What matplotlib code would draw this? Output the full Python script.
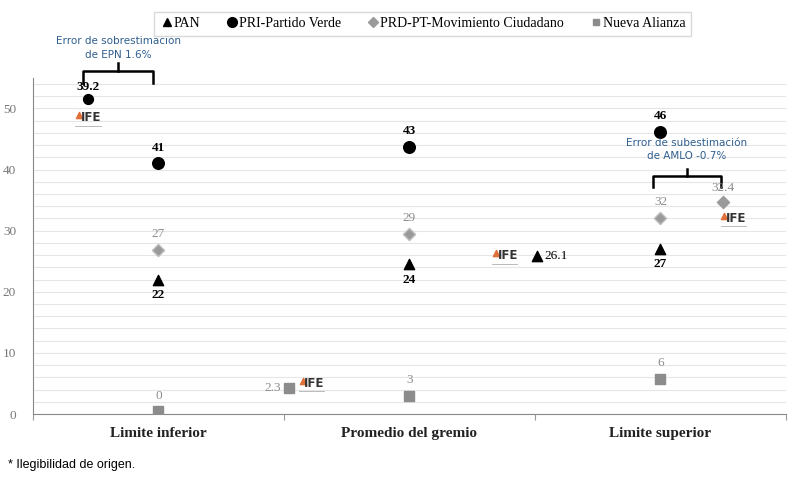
import matplotlib.pyplot as plt
import numpy as np

categories = ['Limite inferior', 'Promedio del gremio', 'Limite superior']
# plotted heights (as placed in the picture) and the printed labels
pan_y = [22, 24.5, 27]
pan_lbl = ['22', '24', '27']
pri_y = [41, 43.7, 46.2]
pri_lbl = ['41', '43', '46']
prd_y = [26.8, 29.4, 32.1]
prd_lbl = ['27', '29', '32']
na_y = [0.5, 3.0, 5.8]
na_lbl = ['0', '3', '6']

# IFE official results, drawn between categories
ife_pri = (-0.28, 51.5, '39.2')
ife_na = (0.52, 4.3, '2.3')
ife_pan = (1.51, 25.8, '26.1')
ife_prd = (2.25, 34.7, '32.4')
ife_logos = [(-0.28, 48.5), (0.61, 5.0), (1.38, 25.9), (2.29, 32.0)]

serif = 'Liberation Serif'
blue = '#2f5f8f'
gray = '#8c8c8c'

fig = plt.figure(figsize=(8.0, 4.84), dpi=100)
ax = fig.add_axes([0.041, 0.1446, 0.9415, 0.6944])
x = np.arange(len(categories))

ax.set_xlim(-0.5, 2.5)
ax.set_ylim(0, 55)
ax.set_yticks(np.arange(0, 51, 10))
ax.set_yticks(np.arange(0, 55, 2), minor=True)
ax.grid(True, axis='y', which='both', color='#e6e6e6', lw=0.8)
ax.set_axisbelow(True)
ax.tick_params(axis='y', which='both', length=0, labelsize=9.5, labelcolor='#777777', pad=12)
for t in ax.get_yticklabels():
    t.set_family(serif)
ax.set_xticks([-0.5, 0.5, 1.5, 2.5])
ax.set_xticklabels([])
ax.tick_params(axis='x', length=4, color='#999999')
for c, cx in zip(categories, x):
    ax.text(cx, -2.2, c, ha='center', va='top', family=serif, fontsize=11,
            fontweight='bold', color='#222222')
for s in ['top', 'right']:
    ax.spines[s].set_visible(False)
ax.spines['left'].set_color('#888888')
ax.spines['bottom'].set_color('#888888')

ax.scatter(x, pan_y, marker='^', s=55, color='black', zorder=3)
ax.scatter(x, pri_y, marker='o', s=70, color='black', zorder=3)
ax.scatter(x, prd_y, marker='D', s=38, color='#9a9a9a', edgecolor='#bbbbbb', zorder=3)
ax.scatter(x, na_y, marker='s', s=42, color=gray, zorder=3)

def lbl(xx, yy, t, dy, color='black', bold=True, dx=0, ha='center'):
    ax.annotate(t, (xx, yy), xytext=(dx, dy), textcoords='offset points',
                ha=ha, va='center', family=serif, fontsize=9.5,
                fontweight='bold' if bold else 'normal', color=color)

for i in range(3):
    lbl(x[i], pri_y[i], pri_lbl[i], 11.5)
    lbl(x[i], pan_y[i], pan_lbl[i], -11)
    lbl(x[i], prd_y[i], prd_lbl[i], 11.5, color=gray, bold=False)
    lbl(x[i], na_y[i], na_lbl[i], 11, color=gray, bold=False)

ax.scatter([ife_pri[0]], [ife_pri[1]], marker='o', s=50, color='black', zorder=3)
lbl(ife_pri[0], ife_pri[1], ife_pri[2], 9)
ax.scatter([ife_na[0]], [ife_na[1]], marker='s', s=42, color=gray, zorder=3)
lbl(ife_na[0], ife_na[1], ife_na[2], 0, color=gray, bold=False, dx=-6, ha='right')
ax.scatter([ife_pan[0]], [ife_pan[1]], marker='^', s=55, color='black', zorder=3)
lbl(ife_pan[0], ife_pan[1], ife_pan[2], 0, bold=False, dx=5, ha='left')
ax.scatter([ife_prd[0]], [ife_prd[1]], marker='D', s=38, color='#9a9a9a', zorder=3)
lbl(ife_prd[0], ife_prd[1], ife_prd[2], 10, color=gray, bold=False)

# IFE logos
for lx, ly in ife_logos:
    ax.scatter([lx - 0.035], [ly + 0.4], marker='^', s=20, color='#e0703a', zorder=4)
    ax.text(lx + 0.012, ly, 'IFE', ha='center', va='center', fontsize=8.5,
            fontweight='bold', color='#333333', family='DejaVu Sans', zorder=4)
    ax.plot([lx - 0.05, lx + 0.05], [ly - 1.3, ly - 1.3], color='#b0b0b0', lw=0.6, zorder=4)

# brackets with notes
def bracket(x0, x1, yb, ye, ys, text, ty):
    xm = (x0 + x1) / 2
    ax.plot([x0, x0, x1, x1], [ye, yb, yb, ye], color='black', lw=1.8, clip_on=False)
    ax.plot([xm, xm], [yb, ys], color='black', lw=1.8, clip_on=False)
    ax.text(xm, ty, text, ha='center', va='center', fontsize=7.5, color=blue,
            family='DejaVu Sans', linespacing=1.4, clip_on=False)

bracket(-0.3, -0.02, 56.2, 54.1, 57.4, 'Error de sobrestimación\nde EPN 1.6%', 59.9)
bracket(1.97, 2.24, 39.0, 37.2, 40.1, 'Error de subestimación\nde AMLO -0.7%', 43.3)

# legend
h = [plt.Line2D([], [], ls='', marker='^', color='black', ms=6),
     plt.Line2D([], [], ls='', marker='o', color='black', ms=7),
     plt.Line2D([], [], ls='', marker='D', color='#9a9a9a', ms=5),
     plt.Line2D([], [], ls='', marker='s', color=gray, ms=5)]
fig.legend(h, ['PAN', 'PRI-Partido Verde', 'PRD-PT-Movimiento Ciudadano', 'Nueva Alianza'],
           loc='upper center', bbox_to_anchor=(0.528, 0.99), ncol=4, frameon=True,
           fancybox=False, edgecolor='#d0d0d0', handletextpad=0.0, columnspacing=1.8,
           handlelength=1.0, prop={'family': serif, 'size': 10})

fig.text(0.01, 0.04, '* Ilegibilidad de origen.', fontsize=9, family='Liberation Sans', va='center')

fig.savefig('out.png', dpi=100)
